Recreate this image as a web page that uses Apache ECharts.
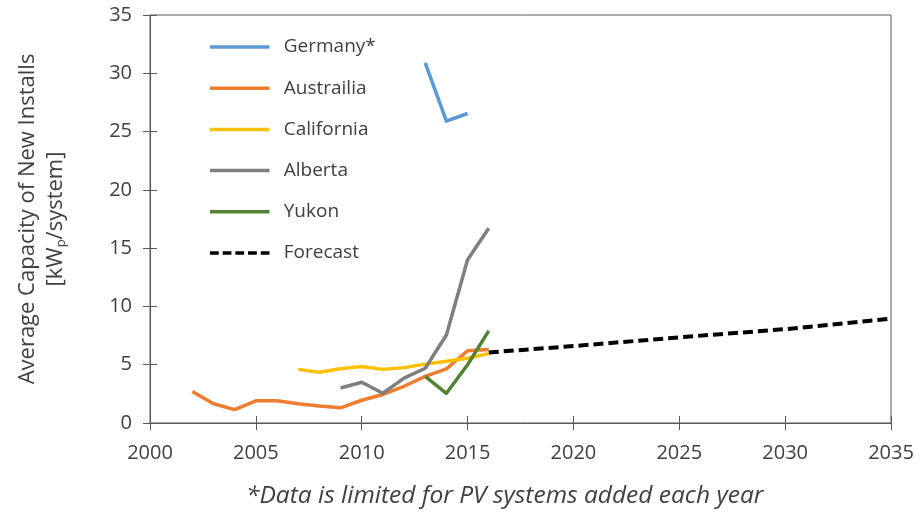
<!DOCTYPE html>
<html>
<head>
<meta charset="utf-8">
<script src="https://cdn.jsdelivr.net/npm/echarts@6/dist/echarts.min.js"></script>
<style>html,body{margin:0;padding:0;background:#fff}#c{width:922px;height:518px}</style>
</head>
<body>
<div id="c"></div>
<script>
const germanyYears = [2013, 2014, 2015];
const germanyValues = [30.9, 25.9, 26.55];
const australiaYears = [2002, 2003, 2004, 2005, 2006, 2007, 2008, 2009, 2010, 2011, 2012, 2013, 2014, 2015, 2016];
const australiaValues = [2.7, 1.65, 1.15, 1.9, 1.9, 1.65, 1.45, 1.3, 1.95, 2.45, 3.15, 4.0, 4.65, 6.2, 6.3];
const californiaYears = [2007, 2008, 2009, 2010, 2011, 2012, 2013, 2014, 2015, 2016];
const californiaValues = [4.6, 4.35, 4.65, 4.85, 4.6, 4.75, 5.05, 5.3, 5.55, 5.95];
const albertaYears = [2009, 2010, 2011, 2012, 2013, 2014, 2015, 2016];
const albertaValues = [3.0, 3.5, 2.55, 3.85, 4.7, 7.55, 14.0, 16.7];
const yukonYears = [2013, 2014, 2015, 2016];
const yukonValues = [4.0, 2.55, 5.0, 7.9];
const forecastYears = [2016, 2020, 2025, 2030, 2035];
const forecastValues = [6.05, 6.6, 7.35, 8.05, 8.95];
const seriesNames = ['Germany*', 'Austrailia', 'California', 'Alberta', 'Yukon', 'Forecast'];
const xTicks = [2000, 2005, 2010, 2015, 2020, 2025, 2030, 2035];
const yTicks = [0, 5, 10, 15, 20, 25, 30, 35];

const pair = (xs, ys) => xs.map((x, i) => [x, ys[i]]);
const FONT = '"Open Sans", sans-serif';
const axisColor = '#595959';
const labelColor = '#404040';
const SOLID_ICON = 'path://M0,0H68V4H0Z';
const DASH_ICON = 'path://M0,0H10V4H0Z M14.5,0H24.5V4H14.5Z M29,0H39V4H29Z M43.5,0H53.5V4H43.5Z M58,0H68V4H58Z';

function line(name, data, color, width, type) {
  return {
    name, type: 'line', data, showSymbol: false, symbol: 'none',
    xAxisIndex: 0, yAxisIndex: 0,
    lineStyle: { color, width, type: type || 'solid', cap: 'butt', join: 'round' },
    itemStyle: { color },
    emphasis: { disabled: true }, silent: true, animation: false
  };
}

const chart = echarts.init(document.getElementById('c'), null, { renderer: 'canvas' });
chart.setOption({
  animation: false,
  backgroundColor: '#fff',
  grid: { left: 150, right: 31, top: 15, bottom: 95, show: true, borderColor: axisColor, borderWidth: 1, backgroundColor: 'transparent' },
  legend: {
    data: seriesNames.map((n, i) => ({ name: n, icon: i === 5 ? DASH_ICON : SOLID_ICON })),
    orient: 'vertical', left: 205, top: 31,
    itemWidth: 68, itemHeight: 3.5, itemGap: 19.2,
    textStyle: { fontFamily: FONT, fontSize: 19, color: labelColor, lineHeight: 22, padding: [0, 0, 0, 5] },
    selectedMode: false
  },
  xAxis: [{
    type: 'value', min: xTicks[0], max: xTicks[xTicks.length - 1], interval: 5,
    axisLine: { show: true, lineStyle: { color: axisColor, width: 1 } },
    axisTick: { show: true, length: 7, lineStyle: { color: axisColor } },
    splitLine: { show: false },
    axisLabel: { fontFamily: FONT, fontSize: 20, color: labelColor, margin: 20, formatter: v => String(v) }
  }, {
    type: 'value', min: xTicks[0], max: xTicks[xTicks.length - 1], interval: 5, position: 'bottom',
    axisLine: { show: false }, axisLabel: { show: false }, splitLine: { show: false },
    axisTick: { show: true, inside: true, length: 7, lineStyle: { color: axisColor } }
  }],
  yAxis: [{
    type: 'value', min: yTicks[0], max: yTicks[yTicks.length - 1], interval: 5,
    axisLine: { show: true, lineStyle: { color: axisColor, width: 1 } },
    axisTick: { show: true, length: 7, lineStyle: { color: axisColor } },
    splitLine: { show: false },
    axisLabel: { fontFamily: FONT, fontSize: 20, color: labelColor, margin: 18 },
    name: '{a|Average Capacity of New Installs}\n{a|[kW}{s|p}{a|/system]}',
    nameLocation: 'middle', nameGap: 80, nameRotate: 90,
    nameTextStyle: {
      fontFamily: FONT, color: labelColor, align: 'center', lineHeight: 28,
      rich: {
        a: { fontFamily: FONT, fontSize: 22, color: labelColor, lineHeight: 28 },
        s: { fontFamily: FONT, fontSize: 13, color: labelColor, lineHeight: 28, padding: [11, 0, 0, 0] }
      }
    }
  }, {
    type: 'value', min: yTicks[0], max: yTicks[yTicks.length - 1], interval: 5, position: 'left',
    axisLine: { show: false }, axisLabel: { show: false }, splitLine: { show: false },
    axisTick: { show: true, inside: true, length: 7, lineStyle: { color: axisColor } }
  }],
  graphic: [{
    type: 'text', left: 246, top: 484,
    style: { text: '*Data is limited for PV systems added each year', fontFamily: FONT, fontSize: 24.5, fontStyle: 'italic', fill: labelColor }
  }],
  series: [
    line(seriesNames[0], pair(germanyYears, germanyValues), '#5B9BD5', 3.5),
    line(seriesNames[1], pair(australiaYears, australiaValues), '#ED7D31', 3.5),
    line(seriesNames[2], pair(californiaYears, californiaValues), '#FFC000', 3.5),
    line(seriesNames[3], pair(albertaYears, albertaValues), '#7F7F7F', 3.5),
    line(seriesNames[4], pair(yukonYears, yukonValues), '#548235', 3.5),
    line(seriesNames[5], pair(forecastYears, forecastValues), '#000000', 4, [10, 5])
  ]
});
</script>
</body>
</html>
